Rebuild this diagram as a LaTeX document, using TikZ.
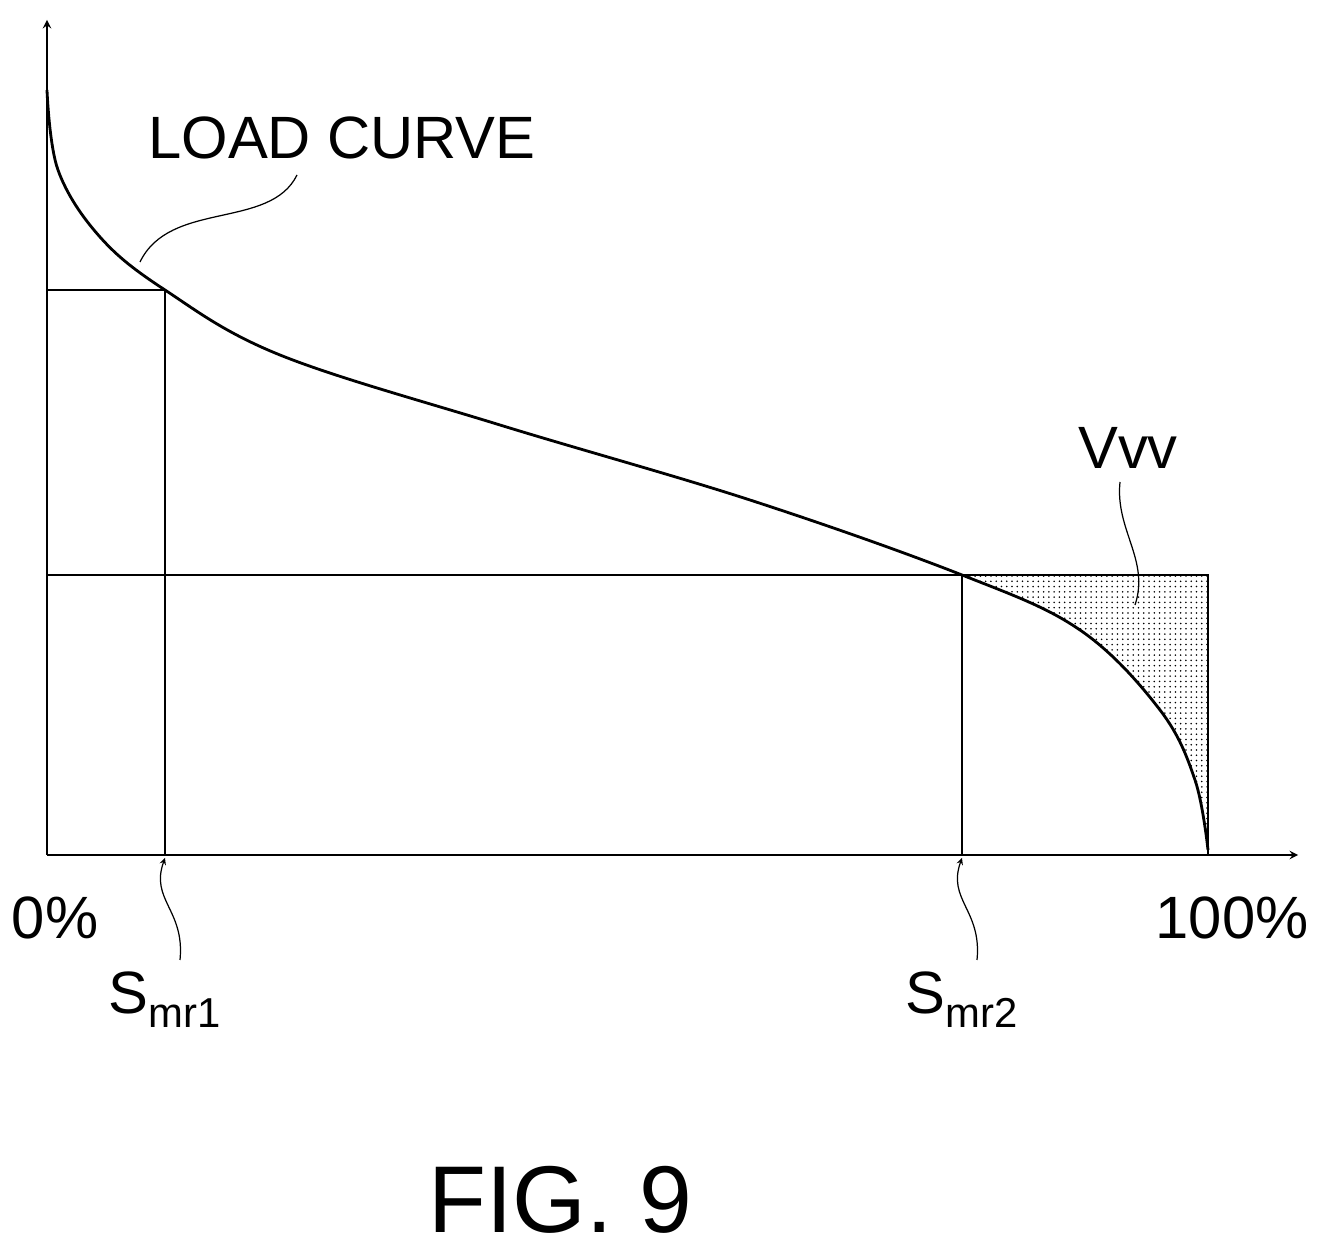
\documentclass[tikz,border=0pt]{standalone}
\usepackage{fontspec}
\setmainfont{Liberation Sans}
\usetikzlibrary{arrows, calc, patterns, positioning}

\begin{document}
\begin{tikzpicture}[x=0.02cm, y=-0.02cm, >=stealth, line width=1.1pt,
	lbl/.style={font=\fontsize{34}{34}\selectfont, inner sep=0pt},
	leader/.style={line width=0.7pt}]
	\useasboundingbox (0,0) rectangle (1320,1256);
	% axes
	\coordinate (O) at (47,855);
	\coordinate (ytop) at (47,20);
	\coordinate (xend) at (1298,855);
	\draw[->] (O) -- (ytop);
	\draw[->] (O) -- (xend);
	% shaded part
	\fill[pattern=dots] plot[smooth] coordinates {(962,575)(1080,630)(1160,710)(1195,780)(1208,850)} -- (1208,575) -- cycle;
	% boxes
	\draw (47,290) -- (165,290) -- (165,855);
	\draw (47,575) -- (1208,575) -- (1208,855);
	\draw (962,575) -- (962,855);
	% load curve
	\draw[line width=1.6pt] plot[smooth, tension=0.6] coordinates {(47,90)(58,170)(100,237)(165,290)(280,355)(500,425)(750,500)(962,575)(1080,630)(1160,710)(1195,780)(1208,850)};
	% labels
	\node[lbl] (lc) at (342,138) {LOAD CURVE};
	\draw[leader] (297,175) .. controls (270,230) and (170,200) .. (140,262);
	\node[lbl] (vvv) at (1128,448) {Vvv};
	\draw[leader] (1120,482) .. controls (1115,530) and (1150,560) .. (1135,605);
	\node[lbl] (p0) at (55,918) {0\%};
	\node[lbl] (p100) at (1232,918) {100\%};
	\node[lbl] (s1) at (165,1000) {S\textsubscript{mr1}};
	\node[lbl] (s2) at (962,1000) {S\textsubscript{mr2}};
	\draw[leader,->] (180,960) .. controls (185,910) and (150,900) .. (165,858);
	\draw[leader,->] (977,960) .. controls (982,910) and (947,900) .. (962,858);
	\node[font=\fontsize{54}{54}\selectfont, inner sep=0pt] (fig) at (560,1200) {FIG. 9};
\end{tikzpicture}
\end{document}
